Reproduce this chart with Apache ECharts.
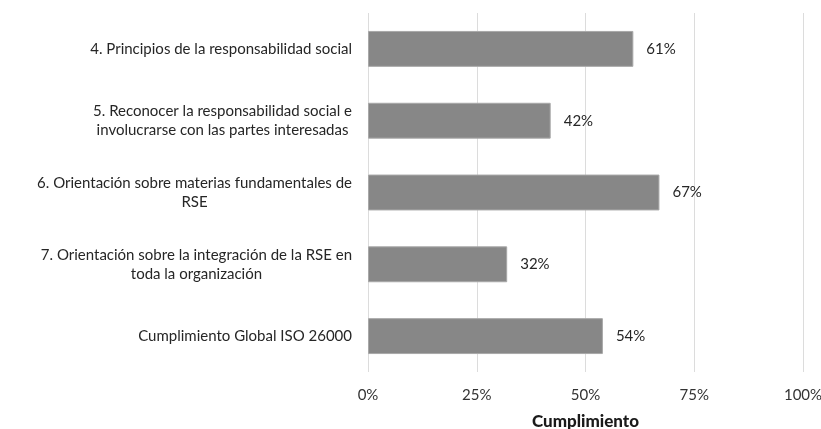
<!DOCTYPE html>
<html>
<head>
<meta charset="utf-8">
<script src="https://cdn.jsdelivr.net/npm/echarts@6/dist/echarts.min.js"></script>
<style>
  html, body { margin: 0; padding: 0; background: #fff; }
  #chart { width: 821px; height: 429px; }
</style>
</head>
<body>
<div id="chart"></div>
<script>
// categories, top to bottom
const categories = [
  '4. Principios de la responsabilidad social',
  '5. Reconocer la responsabilidad social e\ninvolucrarse con las partes interesadas',
  '6. Orientación sobre materias fundamentales de\nRSE',
  '7. Orientación sobre la integración de la RSE en\ntoda la organización',
  'Cumplimiento Global ISO 26000'
];
const cumplimiento = [61, 42, 67, 32, 54];
const xTicks = [0, 25, 50, 75, 100];

const font = 'Lato, "Open Sans", sans-serif';
const chart = echarts.init(document.getElementById('chart'));

chart.setOption({
  animation: false,
  grid: { left: 368, right: 18, top: 13, bottom: 57, outerBoundsMode: 'none', containLabel: false },
  xAxis: {
    type: 'value',
    min: xTicks[0],
    max: xTicks[xTicks.length - 1],
    interval: 25,
    name: 'Cumplimiento',
    nameLocation: 'middle',
    nameGap: 41,
    nameTextStyle: { fontFamily: font, fontWeight: 900, fontSize: 17, color: '#1a1a1a' },
    axisLine: { show: false },
    axisTick: { show: false },
    axisLabel: { formatter: '{value}%', fontFamily: font, fontSize: 15, color: '#333', margin: 16 },
    splitLine: { show: true, lineStyle: { color: '#dcdcdc', width: 1 } }
  },
  yAxis: {
    type: 'category',
    inverse: true,
    data: categories,
    axisLine: { show: false },
    axisTick: { show: false },
    axisLabel: {
      margin: 16,
      align: 'right',
      fontFamily: font,
      fontSize: 15,
      color: '#262626',
      lineHeight: 19,
      formatter: v => v.split('\n').map(s => '{c|' + s + '}').join('\n'),
      rich: { c: { align: 'center', fontFamily: font, fontSize: 15, color: '#262626', lineHeight: 19 } }
    }
  },
  series: [{
    type: 'bar',
    data: cumplimiento,
    barWidth: '50%',
    itemStyle: { color: '#878787', borderColor: '#a8a8a8', borderWidth: 1 },
    label: {
      show: true,
      position: 'right',
      distance: 13,
      formatter: '{c}%',
      fontFamily: font,
      fontSize: 15,
      color: '#262626'
    }
  }]
});
</script>
</body>
</html>
